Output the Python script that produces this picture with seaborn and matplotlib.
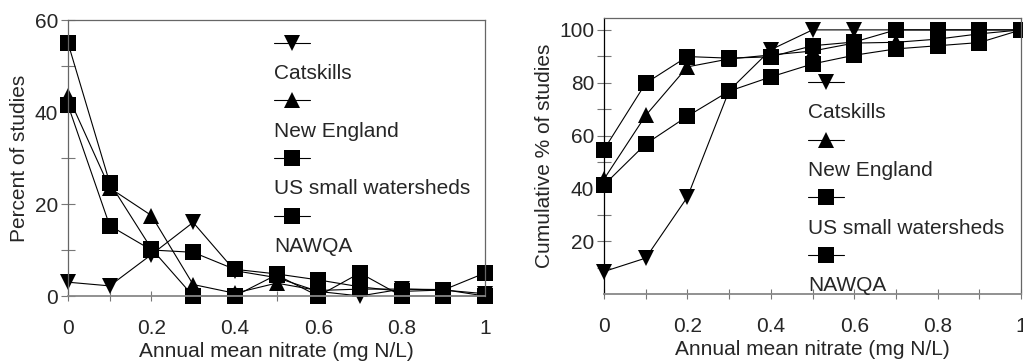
import matplotlib
matplotlib.use("Agg")
import matplotlib.pyplot as plt
import seaborn as sns
import pandas as pd
from matplotlib.lines import Line2D

x_nitrate = [0, 0.1, 0.2, 0.3, 0.4, 0.5, 0.6, 0.7, 0.8, 0.9, 1.0]
series_names = ["Catskills", "New England", "US small watersheds", "NAWQA"]

# Left panel: percent of studies
pct_catskills = [3, 2.2, 9, 16, 5.5, 4, 1, 0, 1.5, 1.3, 0.5]
pct_new_england = [43.5, 23.5, 17.5, 2.5, 0.6, 2.8, 1.2, 1.5, 1.5, 1.4, 0]
pct_us_small = [41.5, 15.3, 10, 9.5, 5.8, 4.8, 3.5, 2, 1, 1.3, 5]
pct_nawqa = [55, 24.6, 10.3, 0, 0, 4.6, 0, 5, 0, 0, 0]

# Right panel: cumulative percent of studies
cum_catskills = [8.5, 13.6, 36.7, 77, 92.5, 100, 100, 100, 100, 100, 100]
cum_new_england = [43.5, 67.6, 86, 89, 90.5, 92, 95, 95.3, 96.5, 98.5, 100]
cum_us_small = [41.3, 56.8, 67.3, 76.8, 82.2, 87.1, 90.4, 92.8, 94, 95.2, 100]
cum_nawqa = [54.7, 79.8, 89.9, 89.3, 89.8, 94, 95.4, 100, 100, 100, 100]

x_tick_labels = ["0", "", "0.2", "", "0.4", "", "0.6", "", "0.8", "", "1"]
left_ytick_labels = ["0", "", "20", "", "40", "", "60"]
right_ytick_labels = ["", "20", "", "40", "", "60", "", "80", "", "100"]

def long_frame(vals):
    rows = []
    for name, v in zip(series_names, vals):
        for xx, yy in zip(x_nitrate, v):
            rows.append({"x": xx, "y": yy, "series": name})
    return pd.DataFrame(rows)

df_left = long_frame([pct_catskills, pct_new_england, pct_us_small, pct_nawqa])
df_right = long_frame([cum_catskills, cum_new_england, cum_us_small, cum_nawqa])

sns.set_theme(style="white")
plt.rcParams["font.family"] = ["Liberation Sans", "DejaVu Sans"]

markers = {"Catskills": "v", "New England": "^", "US small watersheds": "s", "NAWQA": "s"}
MS = 11.5

fig = plt.figure(figsize=(10.23, 3.62), dpi=100)
axL = fig.add_axes([68/1023, 1-296/362, 417/1023, 276/362])
axR = fig.add_axes([604/1023, 1-294/362, 417/1023, 276/362])

FS = 15

def draw(ax, df):
    for name in series_names:
        sub = df[df["series"] == name]
        sns.lineplot(data=sub, x="x", y="y", ax=ax, color="black", lw=0.8,
                     marker=markers[name], markersize=MS,
                     markeredgewidth=0, clip_on=False, legend=False,
                     errorbar=None)
    ax.set_xlim(0, 1)
    ax.set_xticks(x_nitrate)
    ax.set_xticklabels(x_tick_labels, fontsize=FS)
    ax.set_xlabel("Annual mean nitrate (mg N/L)", fontsize=FS, labelpad=3)
    ax.tick_params(axis="x", direction="inout", length=7, width=0.8,
                   color="#777777", pad=13, bottom=True)
    ax.tick_params(axis="y", direction="inout", length=10, width=0.8,
                   color="#777777", pad=2, left=True)
    for s in ax.spines.values():
        s.set_color("#666666")
        s.set_linewidth(0.9)
    ax.spines["bottom"].set_color("#888888")
    ax.spines["bottom"].set_linewidth(1.3)
    handles, labels = [], []
    for name in series_names:
        handles.append(Line2D([], [], color="black", lw=0.8, marker=markers[name],
                              markersize=MS, markeredgewidth=0))
        labels.append("")
        handles.append(Line2D([], [], color="none", lw=0))
        labels.append(name)
    return handles, labels

h, l = draw(axL, df_left)
axL.set_ylim(0, 60)
axL.set_yticks(range(0, 61, 10))
axL.set_yticklabels(left_ytick_labels, fontsize=FS)
axL.set_ylabel("Percent of studies", fontsize=FS, labelpad=4)
axL.legend(h, l, loc="upper left", bbox_to_anchor=(0.495, 0.945), frameon=False,
           fontsize=FS, handlelength=1.7, handletextpad=-1.7, labelspacing=0.47,
           borderpad=0, borderaxespad=0)

h, l = draw(axR, df_right)
axR.set_ylim(0, 104.5)
axR.set_yticks(range(10, 101, 10))
axR.set_yticklabels(right_ytick_labels, fontsize=FS)
axR.set_ylabel("Cumulative % of studies", fontsize=FS, labelpad=4)
axR.spines["left"].set_color("black")
axR.legend(h, l, loc="upper left", bbox_to_anchor=(0.49, 0.795), frameon=False,
           fontsize=FS, handlelength=1.7, handletextpad=-1.7, labelspacing=0.47,
           borderpad=0, borderaxespad=0)

fig.savefig("out.png", dpi=100)
